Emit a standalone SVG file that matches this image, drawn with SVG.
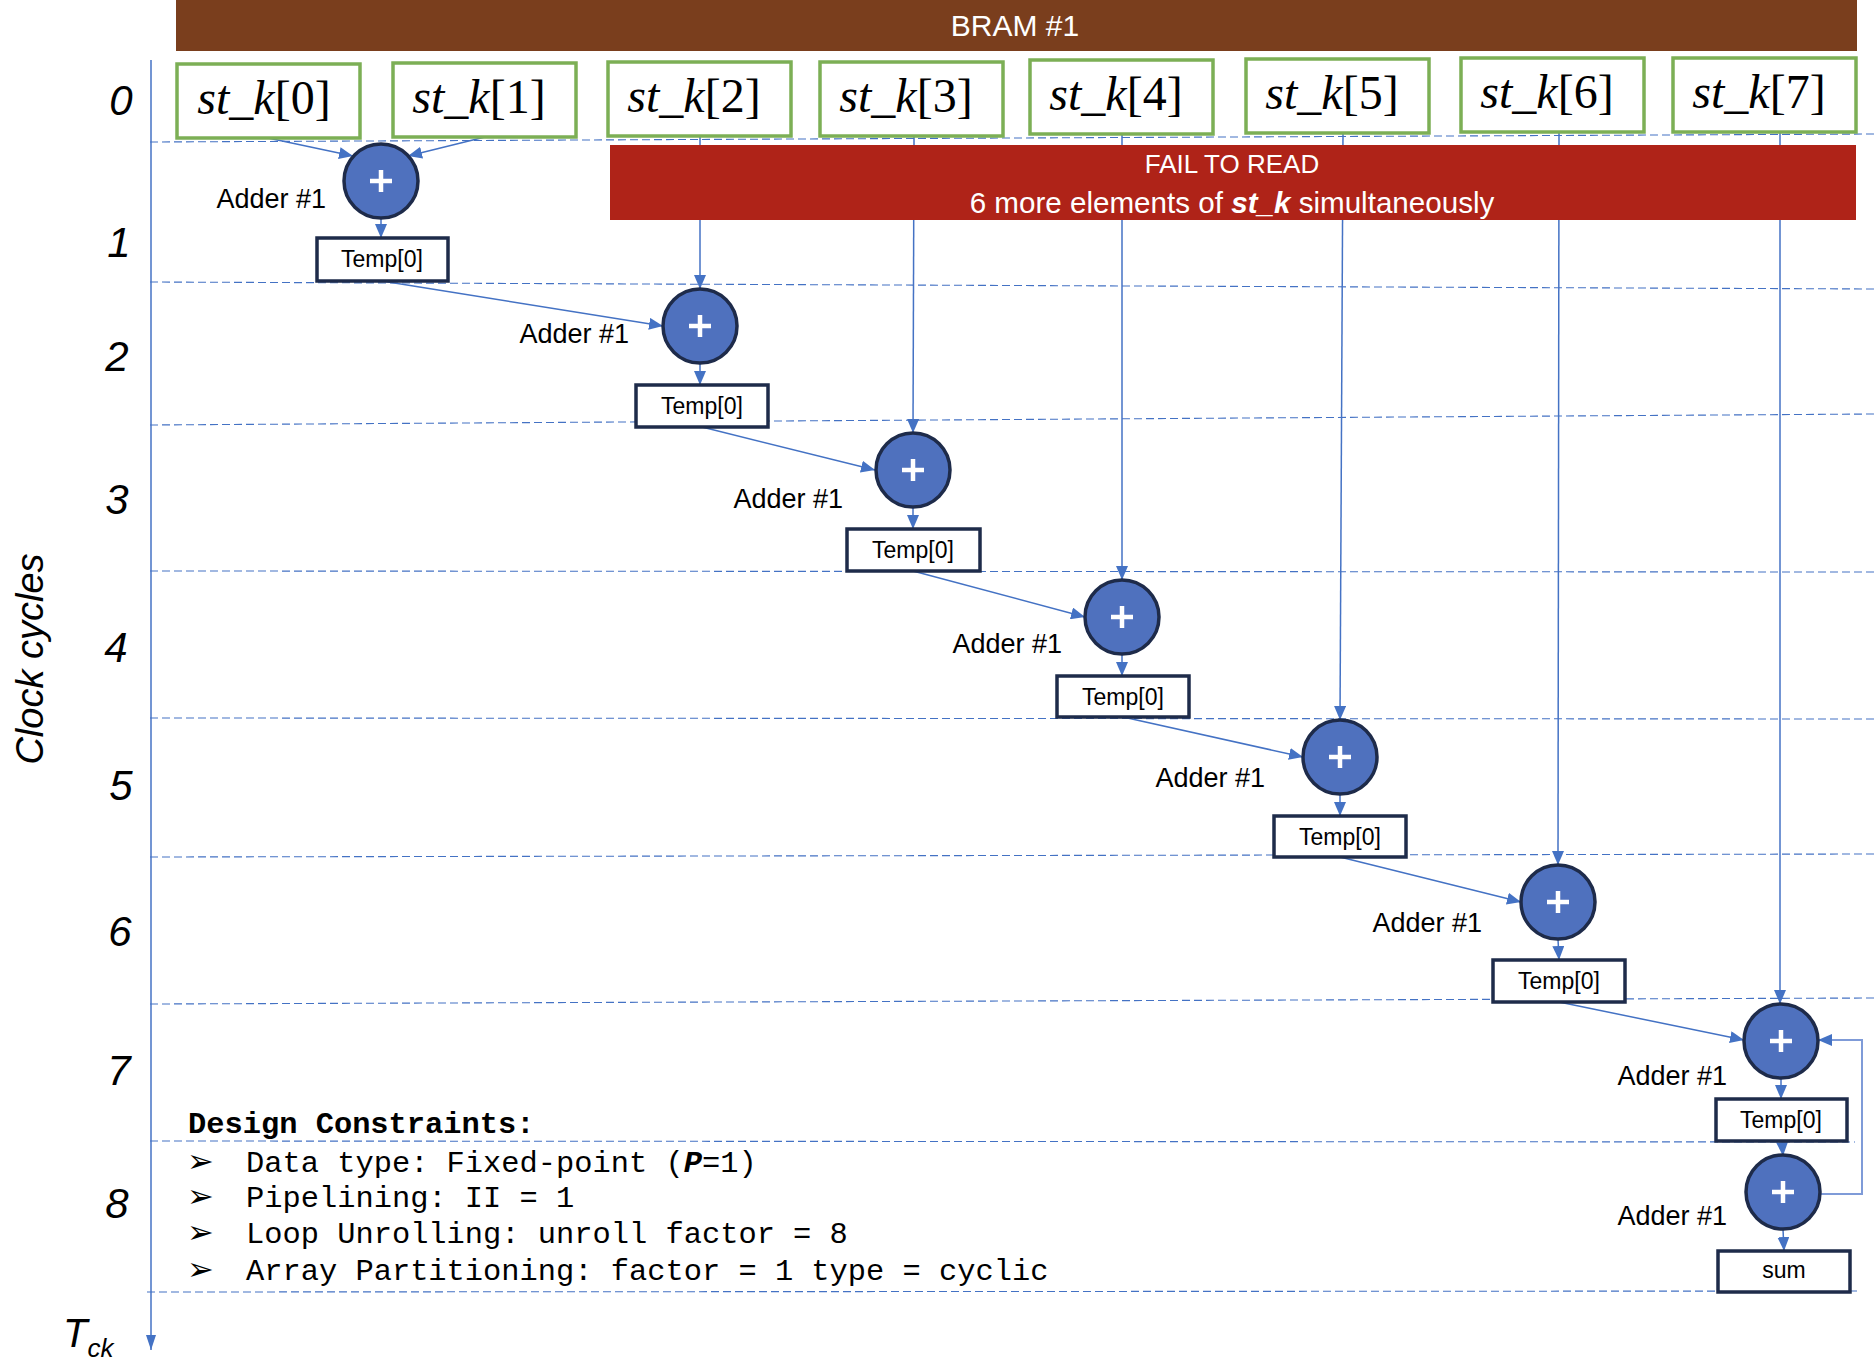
<svg xmlns="http://www.w3.org/2000/svg" width="1876" height="1366" viewBox="0 0 1876 1366">
<style>
.grid{stroke:#4472C4;stroke-width:1.1;stroke-dasharray:8 4;fill:none}
.conn{stroke:#4472C4;stroke-width:1.5;fill:none}
.fb{stroke:#7F9BD8;stroke-width:2;fill:none}
.stbox{fill:#fff;stroke:#7CAF55;stroke-width:3.5}
.adder{fill:#4F71BE;stroke:#1E2B4A;stroke-width:3.5}
.plus{stroke:#fff;stroke-width:4.5}
.tbox{fill:#fff;stroke:#1E2B4A;stroke-width:3.5}
.lbl{font-family:"Liberation Sans",Arial,sans-serif;font-size:27px;fill:#000;text-anchor:end}
.ttxt{font-family:"Liberation Sans",Arial,sans-serif;font-size:23px;fill:#000;text-anchor:middle}
.row{font-family:"Liberation Sans",Arial,sans-serif;font-style:italic;font-size:42px;fill:#000;text-anchor:middle}
.stk{font-family:"Liberation Serif","Times New Roman",serif;font-size:48px;fill:#000;text-anchor:middle}
.mono{font-family:"Liberation Mono","Courier New",monospace;font-size:30.4px;fill:#000}
.bul{font-family:"DejaVu Sans",sans-serif;font-size:32px;fill:#000}
</style>
<defs>
<marker id="arr" markerUnits="userSpaceOnUse" markerWidth="14" markerHeight="12" refX="14" refY="6" orient="auto">
<path d="M0,0 L14,6 L0,12 z" fill="#4472C4"/>
</marker>
<marker id="axarr" markerUnits="userSpaceOnUse" markerWidth="15" markerHeight="10" refX="15" refY="5" orient="auto">
<path d="M0,0 L15,5 L0,10 z" fill="#4472C4"/>
</marker>
</defs>
<rect width="1876" height="1366" fill="#fff"/>

<g id="grid">
<line class="grid" x1="150" y1="142" x2="1876" y2="134"/>
<line class="grid" x1="150" y1="282" x2="1876" y2="289"/>
<line class="grid" x1="150" y1="425" x2="1876" y2="414"/>
<line class="grid" x1="150" y1="571" x2="1876" y2="572"/>
<line class="grid" x1="150" y1="718" x2="1876" y2="719"/>
<line class="grid" x1="150" y1="857" x2="1876" y2="854"/>
<line class="grid" x1="150" y1="1004" x2="1876" y2="998"/>
<line class="grid" x1="150" y1="1141" x2="1855" y2="1142"/>
<line class="grid" x1="147" y1="1292" x2="1857" y2="1291"/>
</g>

<g id="axis">
<line class="conn" x1="151" y1="60" x2="151" y2="1350" marker-end="url(#axarr)"/>
<text class="row" x="121" y="115">0</text>
<text class="row" x="119" y="257">1</text>
<text class="row" x="117" y="371">2</text>
<text class="row" x="117" y="514">3</text>
<text class="row" x="116" y="662">4</text>
<text class="row" x="121" y="800">5</text>
<text class="row" x="120" y="946">6</text>
<text class="row" x="119" y="1085">7</text>
<text class="row" x="117" y="1218">8</text>
<text font-family="Liberation Sans, Arial, sans-serif" font-style="italic" font-size="38" text-anchor="middle" transform="translate(43,659) rotate(-90)">Clock cycles</text>
<text font-family="Liberation Sans, Arial, sans-serif" font-style="italic" x="63" y="1347" font-size="40">T<tspan font-size="26" dy="10">ck</tspan></text>
</g>

<g id="bram">
<rect x="176" y="0" width="1681" height="51" fill="#7A3E1D"/>
<text x="1015" y="36" font-family="Liberation Sans, Arial, sans-serif" font-size="30" fill="#fff" text-anchor="middle">BRAM #1</text>
</g>

<g id="connectors">
<line class="conn" x1="268" y1="138" x2="353" y2="156" marker-end="url(#arr)"/>
<line class="conn" x1="485" y1="137" x2="408" y2="156" marker-end="url(#arr)"/>
<line class="conn" x1="381" y1="218" x2="381" y2="238" marker-end="url(#arr)"/>
<line class="conn" x1="382" y1="281" x2="663" y2="326" marker-end="url(#arr)"/>
<line class="conn" x1="700" y1="136" x2="700" y2="289" marker-end="url(#arr)"/>
<line class="conn" x1="700" y1="363" x2="700" y2="385" marker-end="url(#arr)"/>
<line class="conn" x1="702" y1="427" x2="875" y2="470" marker-end="url(#arr)"/>
<line class="conn" x1="914" y1="136" x2="913" y2="433" marker-end="url(#arr)"/>
<line class="conn" x1="913" y1="507" x2="913" y2="529" marker-end="url(#arr)"/>
<line class="conn" x1="913" y1="571" x2="1085" y2="617" marker-end="url(#arr)"/>
<line class="conn" x1="1122" y1="134" x2="1122" y2="580" marker-end="url(#arr)"/>
<line class="conn" x1="1122" y1="654" x2="1122" y2="676" marker-end="url(#arr)"/>
<line class="conn" x1="1123" y1="717" x2="1303" y2="757" marker-end="url(#arr)"/>
<line class="conn" x1="1343" y1="133" x2="1340" y2="720" marker-end="url(#arr)"/>
<line class="conn" x1="1340" y1="794" x2="1340" y2="816" marker-end="url(#arr)"/>
<line class="conn" x1="1340" y1="857" x2="1521" y2="902" marker-end="url(#arr)"/>
<line class="conn" x1="1559" y1="132" x2="1558" y2="865" marker-end="url(#arr)"/>
<line class="conn" x1="1558" y1="939" x2="1559" y2="960" marker-end="url(#arr)"/>
<line class="conn" x1="1559" y1="1002" x2="1744" y2="1040" marker-end="url(#arr)"/>
<line class="conn" x1="1780" y1="132" x2="1780" y2="1004" marker-end="url(#arr)"/>
<line class="conn" x1="1781" y1="1077" x2="1781" y2="1099" marker-end="url(#arr)"/>
<line class="conn" x1="1782" y1="1141" x2="1783" y2="1156" marker-end="url(#arr)"/>
<line class="conn" x1="1783" y1="1229" x2="1784" y2="1251" marker-end="url(#arr)"/>
<polyline class="fb" points="1820,1194 1862,1194 1862,1040 1818,1040"/>
<line class="conn" x1="1830" y1="1040" x2="1818" y2="1040" marker-end="url(#arr)"/>
</g>

<g id="fail-banner">
<rect x="610" y="145" width="1246" height="75" fill="#AF2318"/>
<text x="1232" y="173" font-family="Liberation Sans, Arial, sans-serif" font-size="26" fill="#fff" text-anchor="middle">FAIL TO READ</text>
<text x="1232" y="213" font-family="Liberation Sans, Arial, sans-serif" font-size="29.6" fill="#fff" text-anchor="middle">6 more elements of <tspan font-weight="bold" font-style="italic">st_k</tspan> simultaneously</text>
</g>

<g id="st_k0"><rect class="stbox" x="177" y="64" width="183" height="74"/><text class="stk" x="264" y="114"><tspan font-style="italic">st_k</tspan>[0]</text></g>
<g id="st_k1"><rect class="stbox" x="393" y="63" width="183" height="74"/><text class="stk" x="479" y="113"><tspan font-style="italic">st_k</tspan>[1]</text></g>
<g id="st_k2"><rect class="stbox" x="608" y="62" width="183" height="74"/><text class="stk" x="694" y="112"><tspan font-style="italic">st_k</tspan>[2]</text></g>
<g id="st_k3"><rect class="stbox" x="820" y="62" width="183" height="74"/><text class="stk" x="906" y="112"><tspan font-style="italic">st_k</tspan>[3]</text></g>
<g id="st_k4"><rect class="stbox" x="1030" y="60" width="183" height="74"/><text class="stk" x="1116" y="110"><tspan font-style="italic">st_k</tspan>[4]</text></g>
<g id="st_k5"><rect class="stbox" x="1246" y="59" width="183" height="74"/><text class="stk" x="1332" y="109"><tspan font-style="italic">st_k</tspan>[5]</text></g>
<g id="st_k6"><rect class="stbox" x="1461" y="58" width="183" height="74"/><text class="stk" x="1547" y="108"><tspan font-style="italic">st_k</tspan>[6]</text></g>
<g id="st_k7"><rect class="stbox" x="1673" y="58" width="183" height="74"/><text class="stk" x="1759" y="108"><tspan font-style="italic">st_k</tspan>[7]</text></g>

<g id="adder0"><circle class="adder" cx="381" cy="181" r="37"/><path class="plus" d="M370,181 H392 M381,170 V192"/><text class="lbl" x="326" y="208">Adder #1</text></g>
<g id="adder1"><circle class="adder" cx="700" cy="326" r="37"/><path class="plus" d="M689,326 H711 M700,315 V337"/><text class="lbl" x="629" y="343">Adder #1</text></g>
<g id="adder2"><circle class="adder" cx="913" cy="470" r="37"/><path class="plus" d="M902,470 H924 M913,459 V481"/><text class="lbl" x="843" y="508">Adder #1</text></g>
<g id="adder3"><circle class="adder" cx="1122" cy="617" r="37"/><path class="plus" d="M1111,617 H1133 M1122,606 V628"/><text class="lbl" x="1062" y="653">Adder #1</text></g>
<g id="adder4"><circle class="adder" cx="1340" cy="757" r="37"/><path class="plus" d="M1329,757 H1351 M1340,746 V768"/><text class="lbl" x="1265" y="787">Adder #1</text></g>
<g id="adder5"><circle class="adder" cx="1558" cy="902" r="37"/><path class="plus" d="M1547,902 H1569 M1558,891 V913"/><text class="lbl" x="1482" y="932">Adder #1</text></g>
<g id="adder6"><circle class="adder" cx="1781" cy="1041" r="37"/><path class="plus" d="M1770,1041 H1792 M1781,1030 V1052"/><text class="lbl" x="1727" y="1085">Adder #1</text></g>
<g id="adder7"><circle class="adder" cx="1783" cy="1192" r="37"/><path class="plus" d="M1772,1192 H1794 M1783,1181 V1203"/><text class="lbl" x="1727" y="1225">Adder #1</text></g>

<g id="temp0"><rect class="tbox" x="317" y="238" width="131" height="43"/><text class="ttxt" x="382" y="267">Temp[0]</text></g>
<g id="temp1"><rect class="tbox" x="636" y="385" width="132" height="42"/><text class="ttxt" x="702" y="414">Temp[0]</text></g>
<g id="temp2"><rect class="tbox" x="847" y="529" width="133" height="42"/><text class="ttxt" x="913" y="558">Temp[0]</text></g>
<g id="temp3"><rect class="tbox" x="1057" y="676" width="132" height="41"/><text class="ttxt" x="1123" y="705">Temp[0]</text></g>
<g id="temp4"><rect class="tbox" x="1274" y="816" width="132" height="41"/><text class="ttxt" x="1340" y="845">Temp[0]</text></g>
<g id="temp5"><rect class="tbox" x="1493" y="960" width="132" height="42"/><text class="ttxt" x="1559" y="989">Temp[0]</text></g>
<g id="temp6"><rect class="tbox" x="1716" y="1099" width="131" height="42"/><text class="ttxt" x="1781" y="1128">Temp[0]</text></g>
<g id="sum"><rect class="tbox" x="1718" y="1251" width="132" height="41"/><text class="ttxt" x="1784" y="1278">sum</text></g>

<g id="constraints">
<text class="mono" x="188" y="1133" font-weight="bold">Design Constraints:</text>
<text class="bul" x="187" y="1172">➢</text>
<text class="mono" x="246" y="1172">Data type: Fixed-point (<tspan font-weight="bold" font-style="italic">P</tspan>=1)</text>
<text class="bul" x="187" y="1207">➢</text>
<text class="mono" x="246" y="1207">Pipelining: II = 1</text>
<text class="bul" x="187" y="1243">➢</text>
<text class="mono" x="246" y="1243">Loop Unrolling: unroll factor = 8</text>
<text class="bul" x="187" y="1280">➢</text>
<text class="mono" x="246" y="1280">Array Partitioning: factor = 1 type = cyclic</text>
</g>
</svg>
